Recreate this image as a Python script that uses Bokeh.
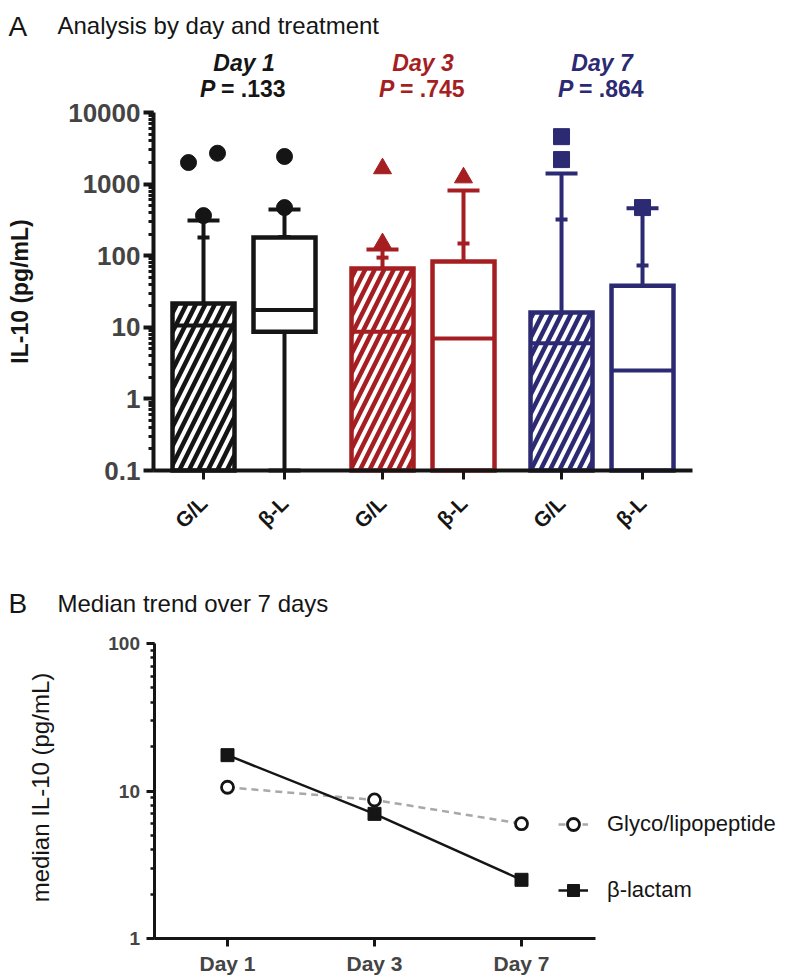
import numpy as np
from bokeh.plotting import figure
from bokeh.models import (Label, FixedTicker, LogTicker, Legend, LegendItem, Range1d)
from bokeh.layouts import column
from bokeh.embed import file_html
from bokeh.resources import INLINE

FONT = "Liberation Sans"
INK = "#151515"

# ---------------- data ----------------
days = ["Day 1", "Day 3", "Day 7"]
treatments = ["G/L", "β-L"]
day_colors = ["#151515", "#A51E22", "#2B2A72"]
p_values = [".133", ".745", ".864"]
day_markers = ["circle", "triangle", "square"]

# box order: D1 G/L, D1 β-L, D3 G/L, D3 β-L, D7 G/L, D7 β-L
box_q1 = [0.1, 8.7, 0.1, 0.1, 0.1, 0.1]
box_q3 = [21.5, 180, 66, 83, 16.1, 38]
box_low = [0.1, 0.1, 0.1, 0.1, 0.1, 0.1]
box_high = [310, 442, 122, 813, 1405, 460]
box_mean = [180, 183, 94, 148, 321, 73]
box_outliers = [[2000, 2700, 363], [2430, 470], [1650, 148], [1230], [2200, 4600], [470]]
outlier_jitter_px = [[-15, 14, 0], [0, 0], [0, 0], [0], [0, 0], [0]]

# medians (shared by panel A boxes and panel B lines)
median_gl = [10.6, 8.7, 6.0]
median_bl = [17.5, 7.0, 2.5]
box_median = [median_gl[0], median_bl[0], median_gl[1], median_bl[1], median_gl[2], median_bl[2]]

# ---------------- layout helpers (page pixels -> data) ----------------
W = 792
H1 = 575
H2 = 400
UNIT1, X0_1 = 81.0, 203.0          # panel A: px per category, px of first category
DEC1, TOP1 = 71.6, 112.0           # panel A: px per decade, px of 10000
UNIT2, X0_2 = 147.0, 153.5         # panel B
DEC2, TOP2 = 147.5, 643.0 - H1     # panel B (canvas-relative y of 100)


def x1(px):
    return (px - X0_1) / UNIT1


def y1(py):
    return 10 ** (4 - (py - TOP1) / DEC1)


def x2(px):
    return (px - X0_2) / UNIT2


def y2(py):
    return 10 ** (2 - (py - TOP2) / DEC2)


# ---------------- panel A ----------------
GROUP_STEP = 2.21
BOX_W = 62 / UNIT1
xs, cols, hatched, dmark, xlabels = [], [], [], [], []
for d in range(len(days)):
    for t in range(len(treatments)):
        xs.append(d * GROUP_STEP + t)
        cols.append(day_colors[d])
        hatched.append(t == 0)
        dmark.append(day_markers[d])
        xlabels.append(treatments[t])

p1 = figure(width=W, height=H1, x_range=Range1d(x1(0), x1(W)),
            y_range=Range1d(y1(H1), y1(0)), y_axis_type="log",
            output_backend="svg", toolbar_location=None,
            min_border=0, min_border_left=0, min_border_right=0,
            min_border_top=0, min_border_bottom=0)
p1.outline_line_color = None
p1.grid.visible = False
p1.title.visible = False

for i, x in enumerate(xs):
    c = cols[i]
    p1.segment(x0=[x], x1=[x], y0=[box_q3[i]], y1=[box_high[i]], line_color=c, line_width=4)
    if box_low[i] < box_q1[i]:
        p1.segment(x0=[x], x1=[x], y0=[box_low[i]], y1=[box_q1[i]], line_color=c, line_width=4)
        p1.scatter([x], [box_low[i]], marker="dash", size=32, line_color=c, line_width=4)
    kw = dict(hatch_pattern="/", hatch_color=c, hatch_weight=4.5, hatch_scale=19) if hatched[i] else {}
    p1.vbar(x=[x], width=BOX_W, bottom=[box_q1[i]], top=[box_q3[i]],
            fill_color="white", line_color=c, line_width=4.5, line_join="miter", **kw)
    p1.segment(x0=[x - BOX_W / 2], x1=[x + BOX_W / 2], y0=[box_median[i]], y1=[box_median[i]],
               line_color=c, line_width=4)
    p1.scatter([x], [box_high[i]], marker="dash", size=32, line_color=c, line_width=4)
    p1.scatter([x], [box_mean[i]], marker="dash", size=12, line_color=c, line_width=4)
    for v, j in zip(box_outliers[i], outlier_jitter_px[i]):
        p1.scatter([x + j / UNIT1], [v], marker=dmark[i],
                   size=16 if dmark[i] != "triangle" else 18,
                   fill_color=c, line_color=c, line_width=1)

ax = p1.yaxis[0]
ax.fixed_location = x1(153)
ax.bounds = (0.1, 10000)
ax.ticker = LogTicker(num_minor_ticks=10)
ax.major_label_text_font = FONT
ax.major_label_text_font_style = "bold"
ax.major_label_text_font_size = "26px"
ax.major_label_standoff = 3
ax.major_label_overrides = {0.1: "0.1", 1: "1", 10: "10", 100: "100", 1000: "1000", 10000: "10000"}
ax.axis_line_width = 4
ax.major_tick_line_width = 4
ax.minor_tick_line_width = 3
ax.major_tick_out = 10
ax.major_tick_in = 0
ax.minor_tick_out = 5
ax.minor_tick_in = 0
ax.axis_line_color = ax.major_tick_line_color = ax.minor_tick_line_color = INK

bx = p1.xaxis[0]
bx.fixed_location = 0.1
bx.bounds = (x1(153), x1(692))
bx.ticker = FixedTicker(ticks=xs)
bx.major_label_overrides = {x: t for x, t in zip(xs, xlabels)}
bx.major_label_orientation = np.pi / 4
bx.major_label_text_font = FONT
bx.major_label_text_font_style = "bold"
bx.major_label_text_font_size = "21px"
bx.major_label_text_color = INK
bx.major_label_standoff = 20
bx.axis_line_width = 4
bx.major_tick_line_width = 3
bx.major_tick_out = 9
bx.major_tick_in = 0
bx.minor_tick_line_color = None
bx.axis_line_color = bx.major_tick_line_color = INK

p1.add_layout(Label(x=x1(19), y=y1(291), text="IL-10 (pg/mL)", angle=np.pi / 2,
                    text_align="center", text_baseline="middle", text_font=FONT,
                    text_font_size="23px", text_font_style="bold", text_color=INK))

for d in range(len(days)):
    cx = d * GROUP_STEP + 0.5
    c = day_colors[d]
    p1.add_layout(Label(x=cx, y=y1(62), text=days[d],
                        text_align="center", text_baseline="middle", text_font=FONT,
                        text_font_size="23px", text_font_style="bold italic", text_color=c))
    p1.add_layout(Label(x=cx, y=y1(88), x_offset=-44, text="P",
                        text_align="left", text_baseline="middle", text_font=FONT,
                        text_font_size="23px", text_font_style="bold italic", text_color=c))
    p1.add_layout(Label(x=cx, y=y1(88), x_offset=-23, text="= " + p_values[d],
                        text_align="left", text_baseline="middle", text_font=FONT,
                        text_font_size="23px", text_font_style="bold", text_color=c))

p1.add_layout(Label(x=x1(8), y=y1(26), text="A", text_baseline="alphabetic",
                    text_font=FONT, text_font_size="28px", text_color=INK))
p1.add_layout(Label(x=x1(57), y=y1(25), text="Analysis by day and treatment",
                    text_baseline="alphabetic",
                    text_font=FONT, text_font_size="24px", text_color=INK))

# ---------------- panel B ----------------
day_x = [i + 0.5 for i in range(len(days))]

p2 = figure(width=W, height=H2, x_range=Range1d(x2(0), x2(W)),
            y_range=Range1d(y2(H2), y2(0)), y_axis_type="log",
            output_backend="svg", toolbar_location=None,
            min_border=0, min_border_left=0, min_border_right=0,
            min_border_top=0, min_border_bottom=0)
p2.outline_line_color = None
p2.grid.visible = False
p2.title.visible = False

l1 = p2.line(day_x, median_gl, line_color="#A8A8A8", line_width=2.5, line_dash="7 5")
s1 = p2.scatter(day_x, median_gl, marker="circle", size=12, fill_color="white",
                line_color=INK, line_width=2.8)
l2 = p2.line(day_x, median_bl, line_color=INK, line_width=2.5)
s2 = p2.scatter(day_x, median_bl, marker="square", size=13, fill_color=INK, line_color=INK)

leg = Legend(items=[LegendItem(label="Glyco/lipopeptide", renderers=[l1, s1]),
                    LegendItem(label="β-lactam", renderers=[l2, s2])],
             location=(558, H2 - (905 - H1)), orientation="vertical",
             glyph_width=30, glyph_height=30, label_height=30, spacing=36,
             label_standoff=19, padding=0, margin=0,
             border_line_color=None, background_fill_alpha=0,
             label_text_font=FONT, label_text_font_size="22px", label_text_color=INK)
p2.add_layout(leg, "center")

ay = p2.yaxis[0]
ay.fixed_location = 0
ay.bounds = (1, 100)
ay.ticker = LogTicker(num_minor_ticks=10)
ay.major_label_text_font = FONT
ay.major_label_text_font_style = "bold"
ay.major_label_text_font_size = "19px"
ay.major_label_standoff = 6
ay.major_label_overrides = {1: "1", 10: "10", 100: "100"}
ay.axis_line_width = 3
ay.major_tick_line_width = 3
ay.minor_tick_line_width = 2.5
ay.major_tick_out = 8
ay.major_tick_in = 0
ay.minor_tick_out = 4
ay.minor_tick_in = 0
ay.axis_line_color = ay.major_tick_line_color = ay.minor_tick_line_color = INK

axb = p2.xaxis[0]
axb.fixed_location = 1
axb.bounds = (0, 3)
axb.ticker = FixedTicker(ticks=day_x)
axb.major_label_overrides = {v: d for v, d in zip(day_x, days)}
axb.major_label_text_font = FONT
axb.major_label_text_font_style = "bold"
axb.major_label_text_font_size = "21px"
axb.major_label_standoff = 5
axb.axis_line_width = 3
axb.major_tick_line_width = 3
axb.major_tick_out = 8
axb.major_tick_in = 0
axb.minor_tick_line_color = None
axb.axis_line_color = axb.major_tick_line_color = INK

p2.add_layout(Label(x=x2(40), y=y2(787 - H1), text="median IL-10 (pg/mL)", angle=np.pi / 2,
                    text_align="center", text_baseline="middle", text_font=FONT,
                    text_font_size="24px", text_color=INK))
p2.add_layout(Label(x=x2(8), y=y2(603 - H1), text="B", text_baseline="alphabetic",
                    text_font=FONT, text_font_size="28px", text_color=INK))
p2.add_layout(Label(x=x2(57), y=y2(603 - H1), text="Median trend over 7 days",
                    text_baseline="alphabetic",
                    text_font=FONT, text_font_size="24px", text_color=INK))

layout = column(p1, p2, spacing=0)
open("out.html", "w").write(file_html(layout, INLINE))
